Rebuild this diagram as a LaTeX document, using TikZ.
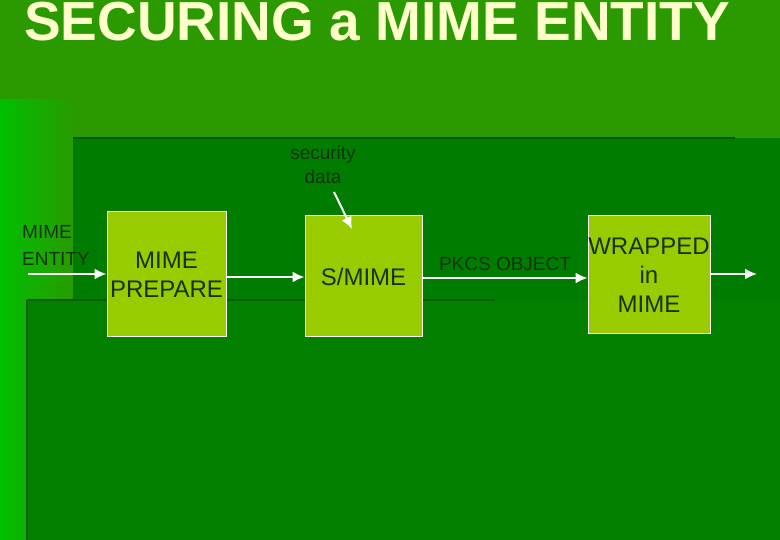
\documentclass[tikz,border=0pt]{standalone}
\usepackage{fontspec}
\setmainfont{Liberation Sans}
\begin{document}
\begin{tikzpicture}[x=1pt,y=-1pt,
  blk/.style={draw=white,line width=1pt,fill=boxg,minimum width=#1,inner sep=0pt,text=txtg,font=\fontsize{24}{29}\selectfont,align=center},
  arr/.style={draw=white,line width=2pt,-{Latex[length=12pt,width=11pt]}},
  lab/.style={text=txtg,align=center,inner sep=0pt}]
\usetikzlibrary{arrows.meta}
\definecolor{bgg}{HTML}{2A9A00}
\definecolor{darkg}{HTML}{007D00}
\definecolor{boxg}{HTML}{99CC00}
\definecolor{txtg}{HTML}{15330A}
\definecolor{ttl}{HTML}{FFFFCC}
\useasboundingbox (0,0) rectangle (780,540);
\fill[bgg] (0,0) rectangle (780,540);
\shade[left color=green!75!black, right color=bgg] (0,100) rectangle (75,540);
\fill[darkg] (73,138) rectangle (780,300);
\draw[green!30!black!70!darkg,line width=2pt] (73,138) -- (735,138);
\fill[darkg!90!bgg] (27,300) rectangle (780,540);
\draw[green!30!black!70!darkg,line width=2pt] (27,300) -- (495,300);
\draw[green!30!black!70!darkg,line width=2pt] (27,300) -- (27,540);
\node[anchor=west,text=ttl,font=\fontsize{55}{60}\bfseries\selectfont,inner sep=0pt] (title) at (24,22) {SECURING a MIME ENTITY};
\node[blk=119pt,minimum height=125pt] (prep) at (166.5,274.5) {MIME\\PREPARE};
\node[blk=117pt,minimum height=121pt] (smime) at (363.5,276.5) {S/MIME};
\node[blk=122pt,minimum height=118pt] (wrap) at (649,275) {WRAPPED\\in\\MIME};
\node[lab,align=left,anchor=west,font=\fontsize{19}{27}\selectfont] (ent) at (22,245) {MIME\\ENTITY};
\node[lab,font=\fontsize{19}{24}\selectfont] (sec) at (323,165) {security\\data};
\node[lab,font=\fontsize{19}{22}\selectfont] (pkcs) at (505,264) {PKCS OBJECT};
\coordinate (in) at (28,274);
\coordinate (out) at (757,274);
\coordinate (sa) at (334,192);
\draw[arr] (in) -- (prep.west|-in);
\draw[arr] (prep.east|-0,277) -- (smime.west|-0,277);
\draw[arr] (smime.east|-0,278) -- (wrap.west|-0,278);
\draw[arr] (wrap.east|-out) -- (out);
\draw[arr] (sa) -- (352,229);
\end{tikzpicture}
\end{document}
